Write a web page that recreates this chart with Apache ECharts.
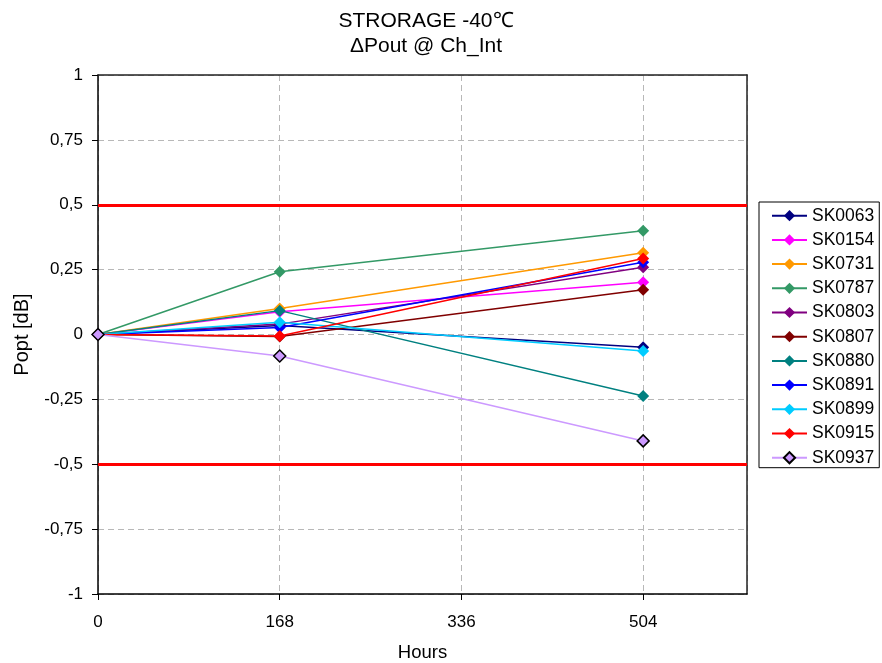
<!DOCTYPE html>
<html>
<head>
<meta charset="utf-8">
<script src="https://cdn.jsdelivr.net/npm/echarts@6/dist/echarts.min.js"></script>
<style>
html,body{margin:0;padding:0;background:#fff;overflow:hidden;}
#chart{width:882px;height:663px;}
</style>
</head>
<body>
<div id="chart"></div>
<script>
const hours = [0, 168, 504];
const xTicks = [0, 168, 336, 504];
const seriesNames = ['SK0063','SK0154','SK0731','SK0787','SK0803','SK0807','SK0880','SK0891','SK0899','SK0915','SK0937'];
const SK0063 = [0, 0.035, -0.049];
const SK0154 = [0, 0.088, 0.201];
const SK0731 = [0, 0.100, 0.315];
const SK0787 = [0, 0.242, 0.400];
const SK0803 = [0, 0.040, 0.259];
const SK0807 = [0, -0.008, 0.172];
const SK0880 = [0, 0.092, -0.237];
const SK0891 = [0, 0.027, 0.278];
const SK0899 = [0, 0.047, -0.064];
const SK0915 = [0, -0.006, 0.293];
const SK0937 = [0, -0.083, -0.410];
const limits = [0.5, -0.5];

const valueSets = [SK0063,SK0154,SK0731,SK0787,SK0803,SK0807,SK0880,SK0891,SK0899,SK0915,SK0937];
const colors = ['#000080','#FF00FF','#FF9900','#339966','#800080','#800000','#008080','#0000FF','#00CCFF','#FF0000','#CC99FF'];

const FONT = 'Liberation Sans, Arial, sans-serif';

const series = seriesNames.map((name, i) => {
  const s = {
    name: name,
    type: 'line',
    xAxisIndex: 0,
    yAxisIndex: 0,
    data: hours.map((h, j) => [h, valueSets[i][j]]),
    symbol: 'diamond',
    symbolSize: 12,
    showAllSymbol: true,
    lineStyle: { color: colors[i], width: 1.5 },
    itemStyle: { color: colors[i], borderColor: colors[i], borderWidth: 0 },
    emphasis: { disabled: true },
    animation: false,
    z: 3 + i
  };
  if (name === 'SK0937') {
    s.itemStyle = { color: colors[i], borderColor: '#000', borderWidth: 1.5 };
  }
  return s;
});
series.push({
  name: 'limits',
  type: 'line',
  data: [],
  silent: true,
  animation: false,
  markLine: {
    silent: true,
    symbol: 'none',
    label: { show: false },
    animation: false,
    lineStyle: { color: '#FF0000', width: 3, type: 'solid' },
    data: limits.map(v => ({ yAxis: v }))
  },
  z: 2
});

const gridLine = { show: true, lineStyle: { color: '#b8b8b8', type: [6, 4], width: 1 } };

const chart = echarts.init(document.getElementById('chart'));
chart.setOption({
  backgroundColor: '#fff',
  animation: false,
  textStyle: { fontFamily: FONT },
  title: {
    text: 'STRORAGE -40℃\nΔPout @ Ch_Int',
    left: 421,
    top: 4,
    textAlign: 'center',
    textStyle: { fontFamily: FONT, fontSize: 21, fontWeight: 'normal', color: '#000', lineHeight: 25 }
  },
  legend: {
    data: seriesNames,
    orient: 'vertical',
    left: 759,
    top: 202,
    padding: [4.7, 5, 1, 12],
    itemWidth: 35,
    itemHeight: 14,
    itemGap: 6.2,
    borderColor: '#000',
    borderWidth: 1,
    textStyle: { fontFamily: FONT, fontSize: 17.5, color: '#000' }
  },
  grid: {
    left: 98, right: 135, top: 75, bottom: 69,
    show: false,
    containLabel: false,
    outerBoundsMode: 'none'
  },
  xAxis: [{
    type: 'value',
    min: 0, max: 600, interval: 168,
    name: 'Hours',
    nameLocation: 'middle',
    nameGap: 49,
    nameTextStyle: { fontFamily: FONT, fontSize: 18.5, color: '#000' },
    axisLine: { show: true, onZero: false, lineStyle: { color: '#000', width: 1.5 } },
    axisTick: { show: true, length: 6, lineStyle: { color: '#000' } },
    axisLabel: { fontFamily: FONT, fontSize: 17, color: '#000', margin: 20, showMaxLabel: false,
      formatter: v => (xTicks.indexOf(v) >= 0 ? String(v) : '') },
    splitLine: gridLine
  }, {
    type: 'value',
    position: 'top',
    min: 0, max: 600,
    axisLine: { show: true, onZero: false, lineStyle: { color: '#222', width: 1.5 } },
    axisTick: { show: false },
    axisLabel: { show: false },
    splitLine: { show: false }
  }],
  yAxis: [{
    type: 'value',
    min: -1, max: 1, interval: 0.25,
    name: 'Popt [dB]',
    nameLocation: 'middle',
    nameRotate: 90,
    nameGap: 66,
    nameTextStyle: { fontFamily: FONT, fontSize: 20, color: '#000' },
    axisLine: { show: true, onZero: false, lineStyle: { color: '#000', width: 1.5 } },
    axisTick: { show: true, length: 6, lineStyle: { color: '#000' } },
    axisLabel: { fontFamily: FONT, fontSize: 17, color: '#000', margin: 15,
      formatter: v => String(v).replace('.', ',') },
    splitLine: gridLine
  }, {
    type: 'value',
    position: 'right',
    min: -1, max: 1,
    axisLine: { show: true, onZero: false, lineStyle: { color: '#222', width: 1.5 } },
    axisTick: { show: false },
    axisLabel: { show: false },
    splitLine: { show: false }
  }],
  series: series
});
</script>
</body>
</html>
